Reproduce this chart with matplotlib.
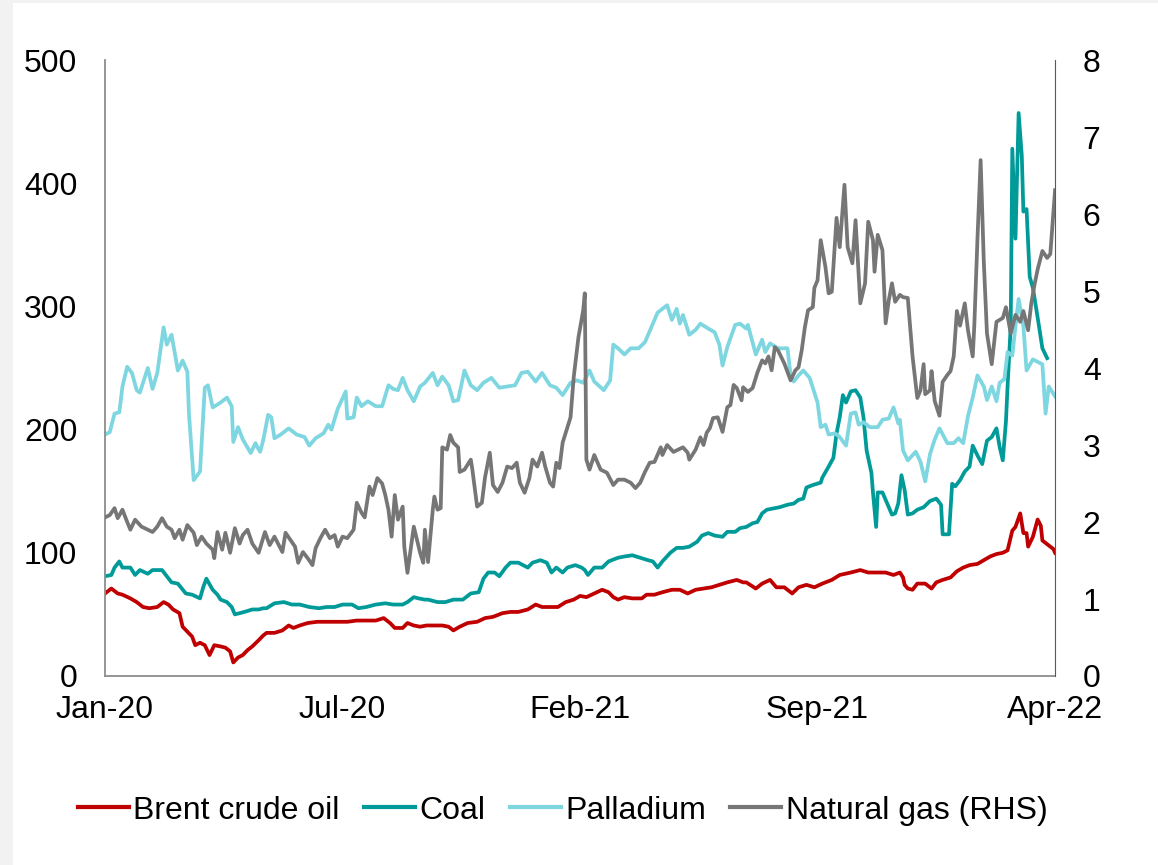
import matplotlib.pyplot as plt
from matplotlib.patches import Rectangle

plt.rcParams['font.family'] = ['Liberation Sans', 'DejaVu Sans']

# x = trading-day index (0 = start of Jan-20, 600 = Apr-22)
tick_days = [0, 150, 300, 450, 600]
tick_labels = ['Jan-20', 'Jul-20', 'Feb-21', 'Sep-21', 'Apr-22']

brent_days = [0, 4, 8, 11, 16, 20, 24, 28, 33, 37, 40, 43, 47, 49, 52, 55, 57, 60, 63, 66, 69, 73, 76, 79, 81,
              84, 87, 90, 93, 97, 100, 102, 107, 112, 116, 119, 123, 128, 134, 140, 147, 153, 159, 165, 171,
              176, 180, 183, 188, 191, 195, 199, 203, 207, 213, 217, 220, 224, 229, 235, 240, 245, 251, 256,
              261, 267, 272, 276, 282, 286, 291, 296, 300, 304, 309, 314, 318, 321, 324, 328, 333, 339, 342,
              347, 352, 358, 363, 368, 373, 378, 383, 388, 393, 399, 403, 405, 411, 415, 420, 424, 429, 434,
              438, 443, 448, 453, 459, 464, 471, 477, 482, 488, 493, 498, 502, 504, 505, 507, 510, 513, 518,
              522, 525, 529, 534, 538, 542, 546, 551, 555, 559, 563, 567, 570, 573, 575, 578, 580, 582, 583,
              586, 589, 591, 592, 596, 599, 600]
brent = [67, 71, 67, 66, 63, 60, 56, 55, 56, 60, 58, 54, 51, 40, 36, 32, 25, 27, 25, 17, 25, 24, 23, 20, 11,
         15, 17, 21, 24, 29, 33, 35, 35, 37, 41, 39, 41, 43, 44, 44, 44, 44, 45, 45, 45,
         47, 43, 39, 39, 43, 41, 40, 41, 41, 41, 40, 37, 40, 43, 44, 47, 48, 51, 52,
         52, 54, 58, 56, 56, 56, 60, 62, 65, 64, 67, 70, 68, 64, 62, 64, 63, 63, 66,
         66, 68, 70, 70, 67, 70, 71, 72, 74, 76, 78, 76, 76, 71, 75, 78, 72, 72, 67,
         72, 74, 72, 75, 78, 82, 84, 86, 84, 84, 84, 82, 84, 80, 74, 71, 70, 75, 75,
         71, 76, 78, 80, 85, 88, 90, 91, 94, 97, 99, 100, 102, 118, 121, 132, 116, 116, 105,
         113, 127, 122, 110, 106, 103, 100]

coal_days = [0, 4, 6, 9, 11, 16, 19, 22, 27, 30, 36, 39, 42, 46, 51, 55, 60, 62, 64, 68, 71, 73, 77, 80, 82,
             85, 88, 93, 97, 100, 102, 107, 113, 118, 123, 129, 135, 140, 145, 150, 156, 160, 165, 171, 177,
             182, 188, 191, 195, 198, 202, 204, 210, 215, 220, 226, 231, 236, 239, 242, 246, 249, 253, 256,
             261, 264, 267, 270, 275, 279, 282, 285, 289, 292, 297, 301, 303, 305, 309, 314, 318, 324, 328,
             333, 338, 343, 346, 349, 352, 357, 361, 365, 369, 374, 377, 381, 385, 390, 393, 398, 401, 405,
             409, 412, 415, 418, 422, 426, 431, 435, 438, 441, 443, 447, 452, 453, 457, 460, 462, 464, 466,
             468, 471, 474, 477, 479, 481, 484, 485, 487, 488, 491, 494, 497, 499, 501, 503, 505, 507, 510,
             513, 517, 521, 525, 528, 529, 533, 535, 537, 540, 543, 546, 548, 551, 554, 557, 560, 563, 565,
             567, 569, 570, 572, 573, 575, 576, 577, 579, 580, 582, 584, 586, 589, 592, 595]
coal = [81, 82, 88, 93, 88, 88, 82, 86, 83, 86, 86, 81, 76, 75, 67, 66, 63, 72, 79, 70, 66, 62, 60, 56, 50,
        51, 52, 54, 54, 55, 55, 59, 60, 58, 58, 56, 55, 56, 56, 58, 58, 55, 56, 58, 59,
        58, 58, 60, 64, 63, 62, 62, 60, 60, 62, 62, 67, 68, 79, 84, 84, 81, 88, 92,
        92, 90, 88, 92, 94, 92, 84, 88, 84, 88, 90, 88, 86, 82, 88, 88, 93, 96, 97,
        98, 96, 94, 93, 88, 93, 100, 104, 104, 105, 109, 114, 116, 114, 113, 117, 117, 120, 121,
        124, 125, 132, 135, 136, 137, 139, 140, 143, 144, 153, 155, 157, 161, 170, 177, 197, 210, 228,
        222, 231, 232, 226, 210, 183, 165, 149, 121, 149, 149, 140, 131, 132, 140, 163, 151, 131, 132,
        135, 137, 142, 144, 139, 115, 115, 156, 154, 159, 166, 170, 187, 179, 172, 191, 194, 201, 186,
        175, 207, 235, 284, 428, 355, 407, 457, 422, 377, 379, 324, 315, 291, 266, 258]

pall_days = [0, 3, 6, 9, 11, 14, 17, 20, 22, 27, 30, 33, 37, 39, 42, 46, 49, 52, 53, 56, 60, 63, 65, 68, 73,
             77, 80, 81, 84, 87, 92, 95, 97, 98, 100, 103, 105, 107, 111, 116, 121, 126, 129, 133, 138,
             141, 143, 147, 152, 153, 157, 159, 162, 166, 171, 175, 179, 182, 185, 188, 191, 195, 199, 202,
             207, 210, 213, 217, 220, 223, 227, 231, 235, 239, 244, 249, 254, 259, 263, 267, 272, 276, 281,
             285, 289, 294, 298, 302, 306, 309, 315, 319, 321, 324, 328, 332, 337, 341, 345, 349, 355, 358,
             361, 363, 365, 369, 373, 376, 381, 385, 388, 390, 393, 398, 401, 405, 406, 411, 415, 417, 420,
             425, 431, 433, 435, 438, 441, 445, 450, 452, 455, 457, 461, 464, 468, 471, 474, 476, 479, 483,
             488, 491, 495, 498, 501, 502, 504, 507, 512, 515, 518, 521, 524, 527, 532, 536, 539, 542, 545,
             548, 551, 555, 557, 560, 563, 565, 568, 570, 573, 575, 577, 580, 582, 586, 592, 594, 596, 600]
palladium = [196, 198, 213, 214, 235, 251, 246, 232, 230, 250, 233, 246, 283, 269, 277, 248, 256, 247, 213, 159,
             166, 234, 236, 218, 222, 226, 219, 190, 202, 192, 181, 189, 184, 182, 192, 212, 210, 193, 196,
             201, 196, 194, 187, 193, 197, 204, 200, 217, 231, 209, 210, 226, 219, 223, 219, 219, 236, 233,
             232, 242, 232, 223, 235, 238, 246, 236, 243, 236, 223, 224, 248, 236, 232, 238, 242, 234, 235,
             236, 246, 247, 239, 246, 236, 234, 228, 238, 240, 238, 248, 239, 232, 240, 269, 266, 261, 266,
             266, 271, 283, 295, 301, 289, 298, 286, 293, 277, 281, 286, 282, 279, 269, 252, 267, 285, 286,
             282, 285, 261, 273, 263, 270, 266, 266, 244, 239, 244, 248, 242, 222, 202, 204, 196, 197, 194,
             187, 213, 214, 204, 206, 202, 202, 208, 209, 218, 205, 208, 183, 175, 182, 174, 158, 180, 192,
             201, 189, 189, 193, 189, 211, 226, 244, 235, 224, 235, 223, 238, 241, 263, 260, 284, 306, 284,
             248, 257, 253, 213, 235, 227]

gas_days = [0, 3, 6, 8, 11, 14, 16, 19, 23, 27, 30, 33, 36, 39, 42, 44, 47, 49, 52, 56, 58, 61, 64, 68, 69,
            71, 74, 76, 79, 82, 85, 87, 90, 93, 97, 101, 104, 107, 112, 114, 117, 120, 122, 125, 128, 131,
            133, 136, 139, 142, 145, 147, 150, 153, 157, 159, 162, 164, 167, 169, 172, 175, 177, 179, 181,
            183, 185, 188, 189, 191, 195, 197, 199, 201, 202, 204, 207, 208, 210, 212, 213, 216, 218, 220,
            223, 224, 227, 231, 232, 235, 238, 240, 243, 245, 248, 251, 254, 257, 260, 262, 265, 268, 270,
            273, 276, 278, 281, 283, 285, 287, 289, 292, 294, 296, 299, 302, 303, 304, 306, 309, 313, 317,
            321, 324, 328, 332, 335, 338, 341, 344, 347, 351, 352, 355, 359, 362, 365, 368, 369, 373, 376,
            378, 380, 382, 384, 387, 390, 393, 395, 397, 399, 402, 403, 406, 409, 412, 415, 417, 419, 421,
            423, 425, 428, 429, 433, 436, 438, 440, 442, 444, 447, 448, 450, 452, 455, 457, 459, 462, 464,
            467, 469, 472, 474, 477, 480, 482, 485, 486, 488, 491, 493, 495, 497, 499, 502, 504, 507, 510,
            513, 515, 517, 518, 521, 522, 524, 527, 529, 532, 534, 536, 538, 540, 543, 545, 548, 549, 551,
            553, 555, 557, 560, 563, 567, 569, 572, 575, 578, 580, 583, 585, 587, 589, 592, 595, 597, 600]
gas = [2.06, 2.09, 2.18, 2.05, 2.16, 2.00, 1.90, 2.03, 1.94, 1.90, 1.87, 1.94, 2.05, 1.94, 1.90, 1.79, 1.90,
       1.77, 1.96, 1.86, 1.70, 1.81, 1.72, 1.64, 1.53, 1.87, 1.64, 1.86, 1.60, 1.92, 1.72, 1.83, 1.90, 1.72,
       1.60, 1.87, 1.70, 1.81, 1.61, 1.86, 1.77, 1.68, 1.47, 1.61, 1.53, 1.44, 1.66, 1.79, 1.90, 1.79, 1.83,
       1.68, 1.81, 1.79, 1.90, 2.25, 2.12, 2.06, 2.46, 2.35, 2.57, 2.50, 2.35, 2.16, 1.81, 2.35, 2.03, 2.20,
       1.68, 1.34, 1.94, 1.77, 1.60, 1.47, 1.90, 1.48, 2.16, 2.33, 2.16, 2.18, 2.97, 2.94, 3.13, 3.03, 2.97,
       2.65, 2.68, 2.81, 2.68, 2.20, 2.25, 2.58, 2.90, 2.48, 2.39, 2.51, 2.72, 2.70, 2.77, 2.51, 2.38, 2.57,
       2.81, 2.72, 2.90, 2.72, 2.51, 2.46, 2.77, 2.70, 3.03, 3.23, 3.36, 3.88, 4.40, 4.75, 4.97, 2.81, 2.68,
       2.87, 2.68, 2.64, 2.48, 2.55, 2.55, 2.51, 2.44, 2.51, 2.65, 2.77, 2.78, 2.97, 2.87, 3.00, 2.91, 2.94,
       2.97, 2.90, 2.81, 2.94, 3.10, 3.00, 3.16, 3.22, 3.35, 3.36, 3.17, 3.49, 3.52, 3.78, 3.74, 3.58, 3.75,
       3.69, 3.74, 3.94, 4.10, 4.06, 4.15, 3.97, 4.27, 4.23, 4.10, 4.06, 3.84, 3.97, 4.01, 4.23, 4.53, 4.75,
       4.79, 5.04, 5.14, 5.66, 5.31, 4.97, 4.99, 5.95, 5.57, 6.38, 5.57, 5.36, 5.92, 4.84, 5.10, 5.90, 5.66,
       5.25, 5.73, 5.53, 4.58, 4.88, 5.10, 4.86, 4.95, 4.92, 4.91, 4.15, 3.61, 3.71, 4.05, 3.66, 3.71, 3.96,
       3.57, 3.38, 3.82, 3.91, 3.96, 4.15, 4.74, 4.55, 4.84, 4.49, 4.15, 4.55, 5.68, 6.70, 5.38, 4.45, 4.05,
       4.60, 4.65, 4.79, 4.45, 4.69, 4.60, 4.74, 4.49, 4.84, 5.08, 5.28, 5.52, 5.43, 5.48, 6.31]

fig = plt.figure(figsize=(11.58, 8.65), dpi=100)
fig.patch.set_facecolor('#f2f2f2')
# white panel behind everything, leaving a thin grey margin left and top
fig.patches.append(Rectangle((0.0112, 0), 0.9888, 0.9965, transform=fig.transFigure,
                             facecolor='white', edgecolor='none', zorder=-10))

ax = fig.add_axes([0.0907, 0.2185, 0.8204, 0.7121])
ax.patch.set_visible(False)
ax2 = ax.twinx()

lw = 2.7
l1, = ax.plot(brent_days, brent, color='#c00000', lw=lw, label='Brent crude oil')
l2, = ax.plot(coal_days, coal, color='#009b99', lw=lw, label='Coal')
l3, = ax.plot(pall_days, palladium, color='#7dd6e0', lw=lw, label='Palladium')
l4, = ax2.plot(gas_days, gas, color='#767676', lw=lw, label='Natural gas (RHS)')

ax.set_xlim(0, 600)
ax.set_ylim(0, 500)
ax.set_yticks(range(0, 501, 100))
ax2.set_ylim(0, 8)
ax2.set_yticks(range(0, 9))
ax.set_xticks(tick_days)
ax.set_xticklabels(tick_labels)

for a in (ax, ax2):
    a.spines['top'].set_visible(False)
    a.tick_params(length=0, labelsize=23, colors='black')
ax.spines['left'].set_color('#8c8c8c')
ax.spines['bottom'].set_color('#8c8c8c')
ax.spines['right'].set_visible(False)
ax2.spines['left'].set_visible(False)
ax2.spines['bottom'].set_visible(False)
ax2.spines['right'].set_color('#595959')
ax2.spines['right'].set_linewidth(0.8)
ax.spines['left'].set_linewidth(1.3)
ax.spines['bottom'].set_linewidth(1.3)
ax.tick_params(axis='y', pad=20)
ax.tick_params(axis='x', pad=14)
ax2.tick_params(axis='y', pad=20)

leg = fig.legend(handles=[l1, l2, l3, l4], loc='center', bbox_to_anchor=(0.486, 0.063),
                 ncol=4, frameon=False, fontsize=23, handlelength=1.6, handletextpad=0.15,
                 columnspacing=0.75)
for h in leg.get_lines():
    h.set_linewidth(3)

fig.savefig('out.png', dpi=100, facecolor=fig.get_facecolor())
